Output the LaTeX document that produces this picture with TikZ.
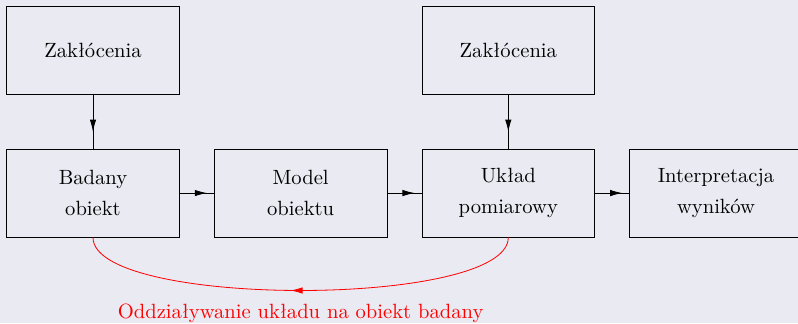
\documentclass[tikz,border=0pt]{standalone}
\usepackage{fontspec}
\usetikzlibrary{arrows.meta, positioning, decorations.markings}
\definecolor{tlo}{HTML}{EAEAF2}

\begin{document}
\begin{tikzpicture}[>={Latex[length=6pt,width=3.2pt]}, node distance=0.597cm]
  \tikzstyle{blok}=[draw, align=center, minimum width=3cm, minimum height=1.53cm, font={\fontsize{10.2}{15.3}\selectfont}]
  \tikzstyle{strzalka}=[postaction={decorate}, decoration={markings, mark=at position 0.5 with {\pgftransformxshift{5pt}\arrow{>}}}]

  % tlo i ramka obrazka
  \fill[tlo] (-1.617,-2.261) rectangle (12.26,3.357);
  \useasboundingbox (-1.617,-2.261) rectangle (12.26,3.357);

  % Dolny rzad
  \node[blok] (obiekt) {Badany\\obiekt};
  \node[blok, right=of obiekt] (model) {Model\\obiektu};
  \node[blok, right=of model] (uklad) {Układ\\pomiarowy};
  \node[blok, right=of uklad] (wyniki) {Interpretacja\\wyników};

  % Gorny rzad
  \node[blok, above=0.94cm of obiekt] (zakl1) {Zakłócenia};
  \node[blok, above=0.94cm of uklad] (zakl2) {Zakłócenia};

  \draw[strzalka] (zakl1) -- (obiekt);
  \draw[strzalka] (zakl2) -- (uklad);
  \draw[strzalka] (obiekt) -- (model);
  \draw[strzalka] (model) -- (uklad);
  \draw[strzalka] (uklad) -- (wyniki);

  \draw[red, strzalka] (uklad.south) .. controls +(0,-1.23) and +(0,-1.23) .. node[below=3pt, font={\fontsize{10.2}{12}\selectfont}]{Oddziaływanie układu na obiekt badany} (obiekt.south);
\end{tikzpicture}
\end{document}
